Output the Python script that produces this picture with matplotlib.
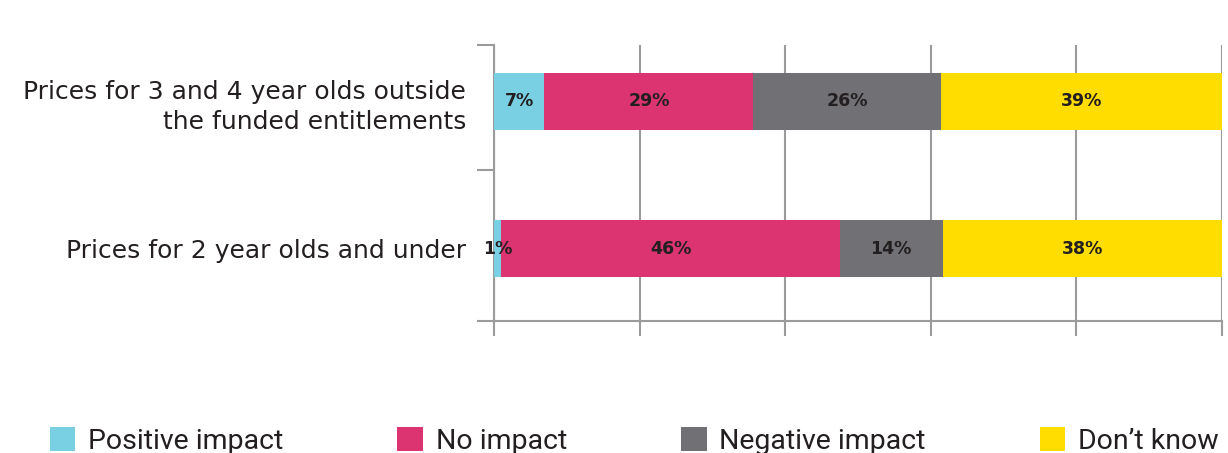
import numpy as np
import matplotlib.pyplot as plt
from matplotlib.patches import Patch

# data
categories = ["Prices for 3 and 4 year olds outside\nthe funded entitlements",
              "Prices for 2 year olds and under"]
series = ["Positive impact", "No impact", "Negative impact", "Don\u2019t know"]
positive = [7, 1]
no_impact = [29, 46]
negative = [26, 14]
dont_know = [39, 38]
colors = ["#78D0E2", "#DC3470", "#717074", "#FFDD00"]

values = np.array([positive, no_impact, negative, dont_know], dtype=float)
shares = values / values.sum(axis=0) * 100  # rows don't add to exactly 100

plt.rcParams["font.family"] = ["Roboto", "DejaVu Sans"]

fig = plt.figure(figsize=(12.28, 4.53), dpi=100)
ax = fig.add_axes([494/1228, 1 - 321/453, 728/1228, 276/453])

y = np.arange(len(categories))
left = np.zeros(len(categories))
for i, name in enumerate(series):
    ax.barh(y, shares[i], left=left, height=0.388, color=colors[i], label=name, zorder=3)
    for j in range(len(categories)):
        ax.text(left[j] + shares[i][j] / 2, y[j], f"{int(values[i][j])}%",
                ha="center", va="center", fontsize=12.5, fontweight="bold",
                color="#231F20", zorder=4, family="DejaVu Sans")
    left += shares[i]

ax.set_xlim(0, 100)
ax.set_ylim(1.493, -0.384)
ax.set_xticks(np.arange(0, 101, 20))
ax.set_xticklabels([])
ax.tick_params(axis="x", length=11, width=1.5, color="#9B9B9B", direction="out")
ax.grid(axis="x", color="#9B9B9B", linewidth=1.5, zorder=0)

ax.set_yticks(y)
ax.set_yticklabels(categories, fontsize=18, color="#231F20", linespacing=1.3,
                   family="DejaVu Sans")
ax.tick_params(axis="y", which="major", length=0, pad=20)
ax.set_yticks([-0.384, 0.466, 1.493], minor=True)
ax.tick_params(axis="y", which="minor", length=12, width=1.5, color="#9B9B9B")

for s in ["top", "right"]:
    ax.spines[s].set_visible(False)
for s in ["left", "bottom"]:
    ax.spines[s].set_color("#9B9B9B")
    ax.spines[s].set_linewidth(1.5)

handles = [Patch(facecolor=c, edgecolor="none") for c in colors]
leg = fig.legend(handles, series, loc="lower left", bbox_to_anchor=(50/1228 - 0.0095, -0.029),
                 ncol=4, frameon=False, fontsize=20.5, handlelength=0.9, handleheight=0.9,
                 handletextpad=0.45, columnspacing=4.0, borderaxespad=0)
for t in leg.get_texts():
    t.set_color("#231F20")

fig.savefig("out.png", dpi=100)
